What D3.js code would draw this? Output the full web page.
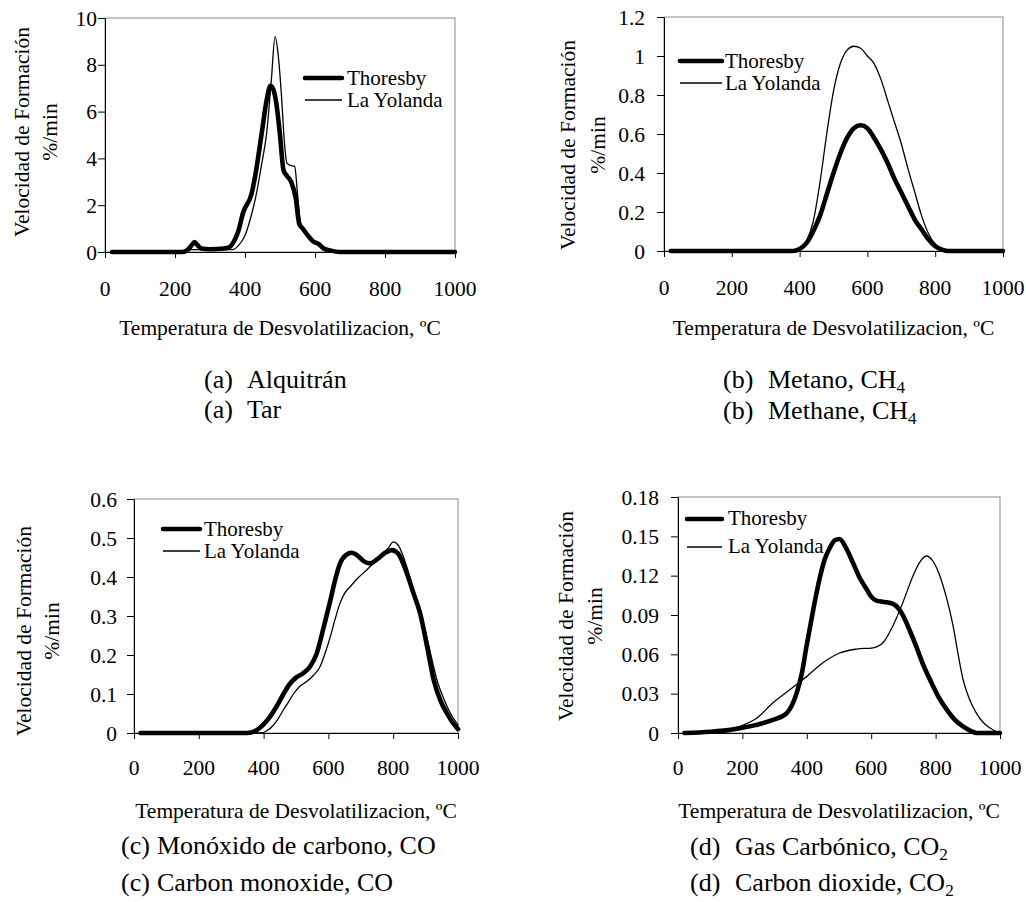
<!DOCTYPE html>
<html><head><meta charset="utf-8">
<script src="https://cdn.jsdelivr.net/npm/d3@7"></script>
<style>
body{margin:0;background:#fff}
svg{display:block}
text{font-family:"Liberation Serif","Times New Roman",serif;fill:#000}
</style>
</head><body>
<svg id="chart" width="1026" height="902"></svg>
<script>
// ---------- data ----------
const xTicks = [0, 200, 400, 600, 800, 1000];
const tarYTicks = [0, 2, 4, 6, 8, 10];
const ch4YTicks = [0, 0.2, 0.4, 0.6, 0.8, 1, 1.2];
const coYTicks = [0, 0.1, 0.2, 0.3, 0.4, 0.5, 0.6];
const co2YTicks = [0, 0.03, 0.06, 0.09, 0.12, 0.15, 0.18];
const seriesNames = ["Thoresby", "La Yolanda"];
const xTitle = "Temperatura de Desvolatilizacion, ºC";
const yTitleA = "Velocidad de Formación";
const yTitleB = "%/min";
const captionTags = ["(a)", "(b)", "(c)", "(d)"];
const captionEs = ["Alquitrán", "Metano, CH_4", "Monóxido de carbono, CO", "Gas Carbónico, CO_2"];
const captionEn = ["Tar", "Methane, CH_4", "Carbon monoxide, CO", "Carbon dioxide, CO_2"];

// [temperature °C, rate %/min]
const tarThoresby = [[20,0],[220,0],[238,0.12],[248,0.3],[256,0.42],[264,0.3],[275,0.15],[300,0.12],[340,0.15],[355,0.2],[370,0.5],[380,0.85],[395,1.7],[419,2.5],[433,3.6],[448,5.1],[462,6.5],[473,7.1],[482,6.9],[490,6.3],[500,5.0],[510,3.5],[520,3.25],[532,3.0],[545,2.3],[555,1.2],[565,1.0],[580,0.7],[595,0.45],[610,0.35],[625,0.15],[645,0.06],[670,0],[1000,0]];
const tarYolanda = [[20,0],[230,0],[245,0.1],[350,0.1],[365,0.1],[380,0.25],[400,0.7],[415,1.4],[430,2.3],[447,3.7],[462,5.1],[475,7.3],[486,9.2],[495,8.4],[505,6.5],[512,4.8],[520,3.8],[530,3.7],[542,3.65],[550,2.5],[558,1.3],[570,0.9],[590,0.5],[610,0.3],[640,0.1],[670,0],[1000,0]];
const ch4Thoresby = [[20,0],[380,0],[400,0.01],[420,0.04],[440,0.1],[460,0.18],[480,0.29],[500,0.4],[520,0.5],[540,0.58],[560,0.63],[580,0.645],[600,0.63],[620,0.58],[640,0.52],[660,0.45],[680,0.37],[700,0.3],[720,0.23],[740,0.16],[760,0.11],[780,0.06],[800,0.025],[820,0.007],[840,0],[1000,0]];
const ch4Yolanda = [[20,0],[380,0],[400,0.01],[420,0.05],[440,0.15],[460,0.35],[480,0.6],[500,0.82],[520,0.96],[540,1.03],[560,1.05],[580,1.04],[600,1.0],[620,0.96],[640,0.88],[660,0.77],[680,0.66],[700,0.55],[720,0.42],[740,0.3],[760,0.18],[780,0.09],[800,0.035],[820,0.01],[840,0],[1000,0]];
const coThoresby = [[20,0],[350,0],[380,0.008],[400,0.022],[420,0.042],[440,0.068],[460,0.098],[480,0.125],[500,0.142],[520,0.152],[543,0.17],[564,0.204],[585,0.27],[606,0.34],[620,0.39],[636,0.435],[655,0.457],[672,0.462],[690,0.455],[710,0.44],[729,0.435],[750,0.445],[775,0.462],[796,0.469],[815,0.46],[842,0.41],[862,0.36],[883,0.307],[905,0.22],[925,0.136],[945,0.085],[966,0.05],[985,0.025],[1000,0.01]];
const coYolanda = [[20,0],[390,0],[409,0.005],[430,0.02],[445,0.037],[461,0.059],[477,0.08],[492,0.1],[512,0.12],[533,0.132],[554,0.148],[574,0.17],[590,0.205],[606,0.247],[620,0.29],[636,0.333],[650,0.358],[667,0.375],[692,0.398],[718,0.418],[745,0.44],[770,0.46],[788,0.478],[800,0.49],[815,0.482],[842,0.426],[868,0.35],[894,0.28],[915,0.205],[935,0.136],[955,0.09],[977,0.05],[1000,0.02]];
const co2Thoresby = [[20,0],[100,0.001],[150,0.002],[192,0.0036],[240,0.006],[295,0.01],[337,0.015],[368,0.03],[385,0.046],[399,0.066],[420,0.094],[440,0.118],[455,0.132],[471,0.141],[487,0.147],[502,0.148],[520,0.142],[543,0.13],[565,0.118],[585,0.11],[600,0.104],[616,0.101],[640,0.1],[668,0.0985],[685,0.095],[699,0.0895],[720,0.078],[740,0.066],[760,0.053],[782,0.041],[808,0.028],[834,0.018],[860,0.01],[885,0.005],[910,0.0015],[927,0],[1000,0]];
const co2Yolanda = [[20,0],[100,0.001],[150,0.002],[192,0.005],[243,0.011],[295,0.023],[347,0.033],[399,0.043],[450,0.0536],[502,0.061],[554,0.064],[606,0.065],[637,0.069],[668,0.082],[699,0.1],[730,0.12],[750,0.13],[771,0.135],[792,0.131],[813,0.12],[834,0.103],[854,0.082],[870,0.06],[885,0.041],[905,0.026],[927,0.015],[948,0.008],[968,0.004],[985,0.0015],[1000,0]];

// ---------- layout ----------
const panels = [
  {x0:105, x1:455, y0:18, y1:252, yTicks:tarYTicks, s:[tarThoresby, tarYolanda], lblGap:8,
   yt1x:29, yt2x:57, ytY:132, tickBase:296, titleBase:335,
   leg:{lx1:305, lx2:342, tx:347, ly:[78,100], tb:[85,107]},
   cap:{tx:204, mx:247, b:[388,418]}},
  {x0:664, x1:1003, y0:17, y1:251, yTicks:ch4YTicks, s:[ch4Thoresby, ch4Yolanda], lblGap:19,
   yt1x:575, yt2x:605, ytY:145, tickBase:295, titleBase:335,
   leg:{lx1:680, lx2:722, tx:725, ly:[61,83], tb:[68,90]},
   cap:{tx:723, mx:768, b:[388,419]}},
  {x0:134, x1:458, y0:499, y1:733, yTicks:coYTicks, s:[coThoresby, coYolanda], lblGap:17,
   yt1x:31, yt2x:59, ytY:631, tickBase:775, titleBase:818,
   leg:{lx1:163, lx2:200, tx:204, ly:[529,551], tb:[536,558]},
   cap:{tx:121, mx:157, b:[854,891]}},
  {x0:678, x1:1000, y0:497, y1:733, yTicks:co2YTicks, s:[co2Thoresby, co2Yolanda], lblGap:19,
   yt1x:573, yt2x:602, ytY:616, tickBase:775, titleBase:818,
   leg:{lx1:687, lx2:722, tx:728, ly:[519,547], tb:[525,553]},
   cap:{tx:690, mx:735, b:[855,891]}}
];
const widths = [4.6, 1.3];

const svg = d3.select("#chart");

function addCaption(g, str, x, y, size) {
  const parts = str.split("_");
  const t = g.append("text").attr("x", x).attr("y", y).style("font-size", size + "px");
  t.append("tspan").text(parts[0]);
  if (parts[1]) t.append("tspan").attr("dy", 5).style("font-size", (size*0.66) + "px").text(parts[1]);
}

panels.forEach((p, i) => {
  const g = svg.append("g");
  const x = d3.scaleLinear().domain([0, 1000]).range([p.x0, p.x1]);
  const yMax = p.yTicks[p.yTicks.length - 1];
  const y = d3.scaleLinear().domain([0, yMax]).range([p.y1, p.y0]);

  // plot area border (gray)
  g.append("rect").attr("x", p.x0).attr("y", p.y0).attr("width", p.x1 - p.x0).attr("height", p.y1 - p.y0)
    .attr("fill", "none").attr("stroke", "#8a8a8a").attr("stroke-width", 1);

  // axes
  const xa = g.append("g").attr("transform", `translate(0,${p.y1})`)
    .call(d3.axisBottom(x).tickValues(xTicks).tickSize(6).tickSizeOuter(0).tickFormat(""));
  const ya = g.append("g").attr("transform", `translate(${p.x0},0)`)
    .call(d3.axisLeft(y).tickValues(p.yTicks).tickSize(7).tickSizeOuter(0).tickFormat(""));
  [xa, ya].forEach(a => { a.select(".domain").attr("stroke", "#000"); a.selectAll(".tick line").attr("stroke", "#000"); });

  // tick labels
  g.selectAll(".xl").data(xTicks).enter().append("text")
    .attr("x", d => x(d)).attr("y", p.tickBase).attr("text-anchor", "middle")
    .style("font-size", "21.5px").text(d => d);
  g.selectAll(".yl").data(p.yTicks).enter().append("text")
    .attr("x", p.x0 - p.lblGap).attr("y", d => y(d) + 7.5).attr("text-anchor", "end")
    .style("font-size", "21.5px").text(d => d3.format("~g")(d));

  // titles
  g.append("text").attr("x", (p.x0 + p.x1) / 2).attr("y", p.titleBase).attr("text-anchor", "middle")
    .style("font-size", "21.5px").text(xTitle);
  g.append("text").attr("transform", `translate(${p.yt1x},${p.ytY}) rotate(-90)`).attr("text-anchor", "middle")
    .style("font-size", "21.5px").text(yTitleA);
  g.append("text").attr("transform", `translate(${p.yt2x},${p.ytY}) rotate(-90)`).attr("text-anchor", "middle")
    .style("font-size", "21.5px").text(yTitleB);

  // lines
  const line = d3.line().x(d => x(d[0])).y(d => y(d[1])).curve(d3.curveMonotoneX);
  [1, 0].forEach(k => {
    g.append("path").datum(p.s[k]).attr("d", line).attr("fill", "none").attr("stroke", "#000")
      .attr("stroke-width", widths[k]).attr("stroke-linejoin", "round").attr("stroke-linecap", "round");
  });

  // legend
  seriesNames.forEach((n, k) => {
    g.append("line").attr("x1", p.leg.lx1).attr("x2", p.leg.lx2).attr("y1", p.leg.ly[k]).attr("y2", p.leg.ly[k])
      .attr("stroke", "#000").attr("stroke-width", widths[k]).attr("stroke-linecap", k === 0 ? "round" : "butt");
    g.append("text").attr("x", p.leg.tx).attr("y", p.leg.tb[k]).style("font-size", "21px").text(n);
  });

  // captions
  [captionEs[i], captionEn[i]].forEach((c, k) => {
    g.append("text").attr("x", p.cap.tx).attr("y", p.cap.b[k]).style("font-size", "26px").text(captionTags[i]);
    addCaption(g, c, p.cap.mx, p.cap.b[k], 26);
  });
});
</script>
</body></html>
